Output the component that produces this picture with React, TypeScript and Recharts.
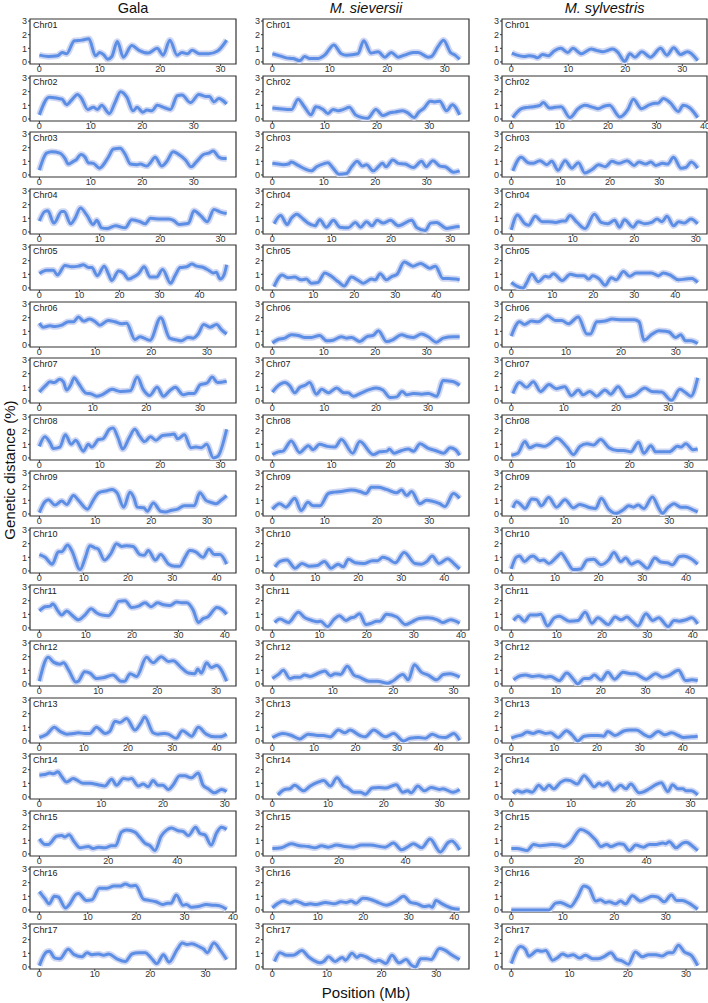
import { LineChart, Line, XAxis, YAxis, ReferenceArea } from 'recharts';

type Pt = [number, number];

// Gala
const gala01: Pt[] = [[0,0.5],[1.5,0.4],[3,0.45],[3.8,0.7],[4.5,0.6],[5.8,1.55],[7,1.6],[8.2,1.7],[9.3,0.45],[10,0.7],[10.7,0.5],[11.3,0.2],[12,0.4],[12.9,1.5],[13.9,0.35],[15.3,1.2],[16.5,0.85],[18,0.65],[19.5,1.0],[20.5,0.5],[21.6,1.6],[22.8,0.5],[23.6,0.7],[24.5,0.6],[25.3,0.85],[26.5,0.6],[28,0.6],[29.5,0.8],[31,1.6]];
const gala02: Pt[] = [[0,0.3],[1.9,1.6],[3.7,1.5],[4.4,1.45],[5.3,1.05],[6.3,1.4],[7.4,1.8],[8.2,1.5],[9.4,0.7],[10.5,0.85],[11.3,0.7],[12.1,1.0],[13.6,0.4],[14.7,1.2],[15.8,2.0],[17,1.6],[18.2,0.6],[19,0.85],[20.1,0.5],[20.9,0.65],[21.9,0.6],[22.9,1.0],[24.5,0.8],[25.5,0.7],[26.8,1.7],[27.7,1.75],[29.4,1.2],[31,1.8],[32.3,1.65],[33.1,1.65],[33.9,1.25],[34.9,1.5],[35.5,1.4],[36.4,1.1]];
const gala03: Pt[] = [[0,0.35],[1.4,1.6],[2.4,1.7],[4,1.6],[5,1.2],[5.6,0.8],[6.6,1.0],[7.1,1.1],[8.1,1.5],[8.9,1.3],[9.5,0.9],[10.5,0.85],[11.7,0.5],[12.1,0.6],[13.4,1.3],[14.4,1.9],[15.7,1.95],[16.7,1.5],[17.7,0.8],[19,0.75],[19.6,0.8],[20.9,0.65],[21.6,0.9],[22.5,1.3],[23.8,0.65],[24.8,1.0],[26,1.7],[27.1,1.5],[28.4,1.1],[29.5,0.6],[30.6,1.0],[31.9,1.5],[32.9,1.6],[33.8,1.75],[34.9,1.3],[35.8,1.2],[36.4,1.2]];
const gala04: Pt[] = [[0,0.8],[0.9,1.5],[1.4,1.55],[2.4,0.65],[3.7,1.5],[4.1,1.5],[5.2,0.6],[5.9,1.0],[6.8,1.75],[7.9,1.2],[8.9,0.55],[9.5,0.85],[10.3,0.3],[11.2,0.25],[12.6,0.45],[14.2,0.3],[15.3,0.9],[16.7,0.75],[17.5,0.6],[18.4,1.0],[20,0.95],[21.4,0.95],[22.2,0.85],[23.1,0.55],[24.2,0.6],[24.7,0.65],[25.6,1.55],[26.7,1.2],[27.8,0.75],[28.9,1.65],[30,1.45],[31,1.35]];
const gala05: Pt[] = [[0,1.05],[1.8,1.3],[3.5,1.3],[4.5,0.95],[6.4,1.65],[8.1,1.55],[9.8,1.6],[11,1.7],[12.3,1.5],[13.1,1.5],[14.5,0.9],[16.2,1.6],[17.3,1.0],[18.1,0.55],[19.8,1.25],[21,1.1],[22.3,0.65],[23.5,0.8],[24.8,1.05],[26.2,1.55],[27.7,0.8],[29.3,0.8],[30.8,1.35],[32.8,0.35],[33.9,0.9],[35.2,1.5],[36.8,1.55],[38.1,1.75],[39.3,1.6],[41,1.5],[42.3,1.3],[43.5,1.1],[44.2,1.15],[45.2,0.65],[46.2,1.0],[46.8,1.7]];
const gala06: Pt[] = [[0,1.6],[0.7,1.3],[1.9,1.4],[2.8,1.35],[4,1.45],[5.2,1.7],[6.1,1.7],[7,2.05],[7.9,1.75],[9,1.9],[10,1.7],[10.8,1.45],[12.3,1.8],[13.5,1.7],[14.7,1.55],[15.6,1.6],[17.1,0.4],[18,0.6],[19.8,0.35],[21.7,2.0],[23.3,0.5],[24.8,0.35],[25.4,0.3],[26.6,0.55],[27.5,0.5],[28.4,0.8],[29.4,1.5],[30.5,1.3],[31.7,1.5],[32.6,1.1],[33.5,0.8]];
const gala07: Pt[] = [[0,0.65],[1.1,1.1],[2,1.4],[2.8,1.35],[3.8,1.6],[4.5,1.4],[5.1,0.8],[5.9,1.2],[6.5,1.7],[7.3,1.3],[8.6,0.6],[9.8,0.5],[10.7,0.35],[11.7,0.45],[13.6,0.85],[15.1,0.7],[17,0.75],[18.3,1.75],[19.4,0.85],[20.6,0.4],[22,1.0],[23.2,0.35],[24.5,0.8],[25.4,1.0],[26.9,0.45],[27.9,0.55],[28.9,0.55],[30.1,1.2],[31.3,1.3],[32.3,1.75],[33.3,1.35],[35,1.45]];
const gala08: Pt[] = [[0,0.85],[0.9,1.55],[1.8,1.1],[2.3,0.7],[3.4,0.8],[4.3,1.7],[5.3,1.0],[6,1.3],[7.3,0.5],[8.1,1.0],[8.7,0.8],[9.8,1.35],[10.5,1.4],[11.6,2.1],[12.2,2.2],[13,1.5],[13.8,0.65],[14.9,1.5],[15.8,2.1],[16.6,1.6],[17.4,1.2],[18.4,1.55],[19.3,1.3],[20.4,1.65],[21.5,1.7],[22.3,1.75],[22.9,1.4],[24,1.7],[25.1,0.75],[25.9,0.8],[26.8,0.75],[27.7,1.0],[28.8,0.0],[29.5,0.1],[31,2.1]];
const gala09: Pt[] = [[0,0.1],[1,0.9],[1.6,1.05],[2.8,0.65],[4,0.95],[4.9,0.7],[6.1,1.35],[7,1.0],[8.6,0.35],[9.7,1.05],[10.6,1.55],[12.1,1.7],[13,1.8],[13.9,1.55],[15.1,0.5],[16.2,1.6],[16.9,1.2],[17.5,0.5],[18.7,0.45],[19.3,0.2],[20.4,0.8],[21.7,0.2],[22.6,0.15],[23.5,0.25],[24.7,0.35],[25.9,0.6],[26.8,0.6],[27.7,0.6],[28.7,1.55],[29.8,1.0],[30.7,0.85],[31.6,0.75],[32.5,1.0],[33.5,1.35]];
const gala10: Pt[] = [[0,1.2],[1.3,1.0],[2.9,0.5],[4.3,1.4],[5,1.4],[6.4,1.9],[7.3,1.5],[9.2,0.1],[10.4,1.0],[11.4,1.85],[12.5,1.7],[13.3,1.6],[14.7,0.8],[16.2,1.3],[17.4,2.0],[18.6,1.8],[19.7,1.85],[21.2,1.8],[22.7,1.2],[23.7,1.15],[24.6,1.5],[26.2,0.8],[27.4,1.2],[29.2,0.5],[30.6,0.35],[31.7,0.35],[32.9,1.0],[34,1.5],[35.3,1.4],[37,1.0],[38.3,1.6],[39.5,1.2],[40.8,1.2],[42.3,0.5]];
const gala11: Pt[] = [[0,1.25],[1.2,1.55],[2.3,1.6],[2.9,1.75],[4.1,1.2],[4.8,0.95],[5.9,1.25],[7,0.95],[8.4,0.6],[9.7,0.9],[11.2,1.4],[12.4,1.1],[13.5,0.95],[14.9,0.9],[16,1.3],[17.1,1.95],[18.5,2.0],[19.9,1.5],[21.4,1.6],[22.8,1.85],[24.1,1.55],[25.5,1.85],[26.8,1.7],[28.2,1.65],[29.6,1.9],[30.7,1.85],[31.8,1.85],[33.2,1.3],[34.3,0.4],[35.4,0.7],[36.3,0.8],[38.3,1.5],[39.4,1.35],[40.4,1.0]];
const gala12: Pt[] = [[0,0.2],[1.5,1.95],[2.4,1.6],[3.5,1.45],[4.1,1.55],[5,1.0],[6.2,0.15],[6.6,0.2],[7.7,0.9],[8.6,0.8],[9.7,0.4],[10.8,0.45],[12.5,0.65],[13.9,0.2],[14.5,0.2],[15.4,0.75],[16.5,0.55],[18.2,1.95],[19.3,1.55],[20.7,2.0],[21.9,1.65],[22.7,1.7],[24.1,1.2],[25.3,0.8],[26.4,0.75],[26.9,1.1],[27.5,0.8],[28.4,1.55],[29.2,1.2],[30.1,1.35],[31.8,0.2]];
const gala13: Pt[] = [[0,0.25],[1.7,0.5],[3.4,1.0],[4.7,0.7],[6.2,0.5],[7.7,0.55],[8.8,0.6],[10.3,0.55],[11.4,0.55],[12.9,1.0],[14.9,0.55],[15.9,0.7],[17.1,1.45],[18.2,1.35],[19.7,1.65],[21.6,0.8],[22.9,1.3],[23.8,1.75],[25.7,0.6],[26.8,0.5],[28.3,0.55],[29.1,0.5],[30.9,0.2],[32.3,0.75],[34.4,0.35],[35.9,1.0],[37.7,0.5],[39.6,0.3],[40.8,0.3],[42.3,0.5]];
const gala14: Pt[] = [[0,1.6],[0.9,1.65],[1.7,1.75],[2.3,1.7],[3,1.85],[3.6,1.5],[4.4,1.1],[5.5,1.35],[6,1.25],[7.1,1.0],[8.2,1.0],[9.5,0.9],[10.6,0.8],[11.7,1.3],[12.5,0.85],[13.6,1.35],[14.4,1.3],[14.9,1.35],[16,0.8],[16.8,0.95],[17.6,0.75],[18.4,1.2],[19.2,0.85],[20,0.85],[20.9,0.55],[21.6,0.85],[22.7,1.55],[23.5,1.55],[24.6,1.4],[25.7,1.75],[26.5,0.85],[27.3,0.6],[28.3,0.3],[29.5,0.55],[30.3,0.4]];
const gala15: Pt[] = [[0,1.1],[1.6,0.7],[2.6,0.7],[5,1.3],[6.5,1.35],[7.4,1.25],[8.6,1.4],[10.1,0.9],[11.8,0.45],[14.2,0.55],[15.6,0.4],[17.1,0.5],[19,0.45],[20.9,0.6],[22.1,0.6],[23.8,1.6],[25.3,1.75],[27.7,1.6],[29.2,1.2],[30.6,0.8],[32.1,0.6],[33.5,0.25],[35.3,1.3],[36.9,1.75],[38.3,1.9],[40.3,1.7],[41.7,1.65],[43.2,1.35],[45.3,1.95],[46.6,1.5],[48,1.4],[49.8,0.65],[51.4,1.55],[52.8,1.95],[54.3,1.8]];
const gala16: Pt[] = [[0,1.35],[1.2,0.8],[2,0.45],[3.1,1.0],[3.9,0.95],[5.4,0.15],[6.2,0.4],[7.6,1.15],[8.1,1.2],[9.7,0.7],[10.9,0.75],[12.4,1.6],[14,1.6],[15.4,1.75],[16.6,1.75],[17.8,1.9],[18.9,1.75],[19.9,1.8],[21.5,0.8],[22.7,0.7],[24.1,0.6],[25.5,0.4],[26.5,0.5],[27.2,0.5],[28.3,1.1],[29.7,0.35],[30.4,0.4],[31.4,0.2],[32.8,0.25],[34.5,0.4],[35.9,0.35],[37.3,0.3],[38.7,0.05]];
const gala17: Pt[] = [[0,0.1],[1.3,1.1],[1.8,1.15],[2.8,0.65],[3.7,0.6],[5.2,1.3],[6.3,0.9],[7.7,0.75],[8.6,1.05],[9.5,0.9],[10.7,0.95],[11.6,0.85],[12.5,0.95],[14,0.6],[15.5,0.4],[16.7,0.95],[17.9,1.05],[19.1,1.05],[20.3,0.6],[21.2,0.25],[22.4,0.9],[23.4,0.35],[24.9,1.3],[25.8,1.75],[26.7,1.65],[27.5,1.7],[28.8,1.5],[29.7,1.3],[30.3,1.05],[31.5,1.75],[32.7,1.2],[33.8,0.55]];

// M. sieversii
const siev01: Pt[] = [[0,0.6],[1.3,0.45],[2.4,0.3],[3.6,0.25],[4.8,0.1],[5.6,0.4],[6.5,0.25],[7.9,0.25],[9.1,0.5],[10.7,1.25],[12,0.6],[12.9,0.5],[14.9,0.6],[15.9,1.55],[17.2,0.65],[18.4,0.75],[19.6,0.35],[20.7,0.7],[21.9,0.35],[23,0.5],[24.5,0.7],[25.4,0.7],[27.1,0.35],[27.7,0.4],[28.8,1.1],[29.8,1.6],[31,0.7],[31.8,0.5],[32.6,0.2]];
const siev02: Pt[] = [[0,0.8],[1.4,0.75],[2.8,0.7],[3.7,0.7],[4.9,1.45],[6.1,0.9],[7.4,0.3],[8.3,0.9],[9.7,0.7],[10.6,0.4],[11.6,0.7],[12.6,0.6],[13.6,0.7],[14.7,0.85],[15.9,0.3],[17.2,0.1],[18.2,0.05],[19.8,0.7],[21.1,0.25],[22.5,0.45],[23.4,0.5],[24.9,0.6],[25.9,0.45],[27.1,0.1],[28,0.5],[29,0.8],[30.2,1.3],[31,1.25],[32,1.3],[33.3,0.6],[34.4,1.05],[35.8,0.3]];
const siev03: Pt[] = [[0,0.85],[1.1,0.8],[2.1,0.75],[3.1,0.8],[3.7,0.95],[5,0.7],[6.6,0.4],[7.6,0.3],[8.6,0.6],[10.2,0.85],[10.8,0.9],[11.8,0.5],[13,0.05],[14.4,0.1],[15.4,0.6],[16.5,1.0],[17.5,0.65],[18.3,0.75],[19.6,0.3],[20.6,0.6],[21.4,0.85],[22.1,0.6],[23.4,1.1],[24.5,0.85],[25.8,0.8],[27.4,0.55],[29,1.0],[29.9,0.6],[31.2,1.05],[32.6,0.65],[33.6,0.6],[35.2,0.2],[36.4,0.3]];
const siev04: Pt[] = [[0.3,0.6],[1.4,1.2],[2.5,0.55],[3.2,1.0],[4.1,1.3],[5.2,0.95],[6,0.65],[7.2,0.45],[8,0.9],[9.1,0.35],[10.3,0.85],[11.4,0.35],[12.8,0.3],[14,0.7],[14.9,0.35],[15.9,0.75],[16.8,0.45],[17.7,0.85],[18.7,0.65],[19.9,0.85],[21.3,0.45],[23.5,0.85],[24.4,0.3],[25.8,0.1],[26.7,0.65],[27.7,0.7],[29.4,0.25],[30.6,0.35],[31.6,0.4]];
const siev05: Pt[] = [[0.4,0.1],[2.4,0.95],[3.8,0.75],[5.5,0.8],[7,0.6],[8.3,0.65],[9.5,0.35],[11.1,0.4],[12.8,1.1],[14.4,0.85],[16.1,0.45],[17.5,0.15],[19.3,0.8],[21,0.55],[22.2,0.35],[24.2,0.65],[25.1,0.6],[26.3,1.05],[27.8,0.6],[29.2,0.85],[30.4,1.0],[32.2,1.9],[34.3,1.6],[36.2,1.8],[38.4,1.45],[39.8,1.6],[41.6,0.7],[43,0.7],[44.7,0.65],[45.7,0.6]];
const siev06: Pt[] = [[0,0.15],[1.1,0.4],[2.4,0.5],[3.7,0.75],[5,0.7],[6.3,0.55],[7.6,0.55],[9.2,0.7],[10.6,0.3],[11.8,0.35],[13.4,0.6],[14.4,0.5],[15.4,0.55],[17,0.25],[18.3,0.6],[19.6,0.7],[20.6,1.05],[22.2,0.25],[23.5,0.4],[25.1,0.75],[26.4,0.6],[27.4,0.55],[29,0.8],[30.3,0.6],[31.9,0.2],[33.2,0.5],[35.2,0.6],[36.4,0.6]];
const siev07: Pt[] = [[0,0.65],[1.4,1.2],[2.4,1.35],[3.4,1.1],[4.3,0.6],[5.3,1.0],[6.3,1.15],[7.2,1.35],[8.5,0.5],[9.5,0.85],[10.8,0.6],[12.4,0.95],[13.8,0.6],[14.6,0.6],[15.6,0.35],[17.2,0.6],[18.8,0.85],[20,0.95],[21.3,0.8],[22.7,0.25],[24,0.3],[25,0.7],[25.9,0.45],[27.2,0.55],[28.8,0.5],[30.1,0.55],[31.7,0.35],[32.9,1.5],[34.3,1.45],[35.3,1.35],[36.1,1.15]];
const siev08: Pt[] = [[0,0.25],[1,0.45],[1.8,0.5],[3.2,1.25],[4.6,0.4],[6.1,0.9],[6.9,0.6],[8,1.0],[9.3,0.85],[10.6,0.8],[11.7,1.35],[13.6,0.35],[14.8,1.2],[17.1,0.25],[18.2,0.45],[19.4,0.5],[19.8,0.65],[20.6,0.35],[21.9,0.55],[23,0.65],[23.9,0.5],[25,1.05],[26.4,0.7],[27.6,0.55],[29,0.35],[30.1,0.75],[31,0.6],[31.7,0.2]];
const siev09: Pt[] = [[0,0.35],[1.4,0.75],[2.6,0.5],[4.3,1.15],[5.5,0.25],[6.8,0.85],[7.8,0.6],[9.1,0.6],[10.7,1.5],[11.9,1.6],[13.2,1.65],[15.1,1.75],[16.7,1.65],[17.9,1.5],[18.9,1.95],[20.2,1.95],[21.8,1.8],[23.7,1.55],[24.7,1.75],[25.7,1.35],[26.6,1.65],[28.2,0.75],[29.5,1.0],[30.4,0.95],[32,0.75],[33,0.55],[34.6,1.5],[35.8,1.15]];
const siev10: Pt[] = [[0.6,0.3],[1.8,0.7],[3.4,0.8],[5.3,0.2],[6.9,0.55],[8.5,0.35],[10.5,0.4],[12.1,0.7],[13.7,0.2],[15.3,0.5],[16.5,0.3],[17.7,0.85],[19.3,0.6],[21.3,0.55],[23.3,0.75],[24.5,0.75],[25.7,1.0],[26.9,0.9],[28.6,0.6],[30.7,1.35],[33.2,0.55],[34.8,0.5],[36,0.7],[37.2,1.1],[38.8,0.55],[40.8,0.9],[42.4,0.5],[43.6,0.15]];
const siev11: Pt[] = [[0.5,0.4],[1.6,0.65],[3.4,0.4],[5.5,1.15],[6.9,0.75],[8.4,0.55],[9.5,0.45],[10.2,0.5],[11.7,0.1],[13.1,0.65],[14.2,0.9],[15.6,0.55],[16.7,0.75],[17.4,0.8],[18.5,1.05],[19.8,0.25],[21,0.35],[22.1,0.5],[22.8,0.5],[24.2,1.0],[26.4,0.8],[28.2,0.25],[29.6,0.45],[31.1,0.7],[32.9,0.75],[35,0.6],[36.1,0.4],[37.8,0.6],[39.7,0.35]];
const siev12: Pt[] = [[0,0.4],[1,0.7],[1.8,1.0],[2.9,0.4],[3.7,0.5],[4.6,0.5],[5.3,0.65],[6.3,0.55],[7.4,0.75],[8.7,0.95],[9.6,0.6],[10.4,0.75],[11.3,0.7],[12.4,1.3],[13.5,0.65],[14.4,0.5],[16,0.2],[17.4,0.2],[19.1,0.05],[19.9,0.2],[21.6,0.7],[22.5,0.3],[23.5,1.4],[24.7,0.85],[25.8,0.65],[27.2,0.3],[28.3,0.7],[29.4,0.75],[31,0.5]];
const siev13: Pt[] = [[0,0.25],[2.6,0.55],[4.6,0.4],[6.6,0.15],[8.6,0.5],[11,0.4],[12.3,0.4],[13.9,0.3],[15.9,0.8],[17.5,0.6],[18.7,0.8],[21.1,0.4],[22.3,0.3],[24.4,0.8],[27.2,0.3],[29.2,0.55],[31.6,0.0],[33.2,0.2],[35.2,0.25],[36.9,0.2],[38.5,0.5],[40.1,0.3],[41.7,0.25],[43.7,0.55],[45.1,0.05]];
const siev14: Pt[] = [[1,0.15],[2.2,0.55],[3.1,0.6],[4,0.85],[5.6,0.45],[6.8,0.8],[8.3,1.1],[9.2,1.2],[10.4,0.8],[11.6,1.4],[12.8,0.8],[13.4,0.7],[14.6,0.35],[15.8,0.35],[16.7,0.2],[17.9,0.65],[19.1,0.7],[20.3,0.65],[22.2,0.9],[23.4,0.35],[24.3,0.45],[24.9,0.3],[26.1,0.8],[27.3,0.45],[28.5,0.7],[30,0.55],[30.6,0.6],[32.4,0.35],[33.6,0.55]];
const siev15: Pt[] = [[0,0.4],[2.7,0.45],[5.7,0.75],[8.2,0.6],[10.8,0.55],[12.8,0.45],[14.8,0.6],[16.8,0.5],[19.3,0.65],[21.8,0.55],[24.4,0.5],[26.8,0.65],[29.4,0.65],[33.9,0.5],[36.4,0.8],[38.9,0.3],[40.9,0.55],[42.4,0.75],[44.9,0.45],[47.4,1.1],[50.5,0.15],[52.9,0.85],[53.9,0.95],[56.3,0.3]];
const siev16: Pt[] = [[0,0.15],[1.3,0.5],[2.4,0.65],[3.9,0.5],[5,0.65],[6.1,0.55],[7.2,0.4],[8.4,0.45],[9.6,0.4],[11.7,0.55],[13.6,0.45],[15.1,0.6],[16.2,0.55],[17.3,0.65],[18.4,0.5],[19.9,0.85],[21.8,0.75],[22.9,0.6],[25.1,0.35],[27,0.6],[28.9,1.0],[30.4,0.55],[31.9,0.45],[33.4,0.25],[34.5,0.3],[35.2,0.2],[36,0.7],[37.1,0.5],[38.2,0.3],[39.7,0.1],[41.2,0.05]];
const siev17: Pt[] = [[0.4,0.4],[1.4,1.05],[2.6,0.85],[3.8,0.85],[5.4,1.2],[6.6,0.75],[7.5,0.5],[8.7,0.3],[9.4,0.4],[10.3,0.75],[11.5,0.4],[12.8,0.7],[13.4,0.5],[14.6,1.0],[15.5,0.7],[16.1,0.85],[17.1,0.75],[18.9,0.4],[19.5,0.5],[20.8,0.25],[21.9,0.85],[23.2,0.3],[24.5,0.55],[25.4,0.15],[26.2,0.0],[27.2,0.6],[28.2,0.6],[29.1,0.55],[30.6,1.35],[31.5,1.25],[32.8,0.9],[34.3,0.55]];

// M. sylvestris
const sylv01: Pt[] = [[0.1,0.65],[1,0.5],[2.2,0.4],[3.1,0.45],[4,0.4],[4.6,0.3],[5.5,0.55],[6.5,0.45],[7.5,0.8],[8.7,1.0],[9.9,0.7],[10.8,1.0],[12.3,0.6],[14,0.95],[14.9,0.85],[16.1,0.75],[17.8,0.95],[18.7,0.7],[19.9,0.05],[20.8,0.6],[21.7,0.35],[22.9,0.75],[24.4,0.35],[26.2,1.0],[27.3,0.5],[28.5,1.05],[29.7,0.55],[30.9,0.75],[32.7,0.1]];
const sylv02: Pt[] = [[0.3,0.1],[2.1,0.75],[3.4,0.85],[4.5,0.9],[5.9,1.0],[6.6,1.2],[7.9,0.8],[9,0.85],[10.3,0.9],[12.1,0.1],[13.8,0.75],[15.2,1.0],[16.9,0.85],[17.9,0.75],[19.3,0.95],[20.3,1.0],[22.4,0.15],[24.1,0.7],[25.2,1.45],[26.9,0.75],[28.6,1.05],[29.7,1.15],[30.3,1.15],[31.4,1.5],[32.8,1.2],[34.5,0.55],[35.5,1.0],[36.9,0.8],[38.5,0.1]];
const sylv03: Pt[] = [[0.3,0.3],[2,1.3],[3.4,0.9],[4.4,0.85],[5.8,1.05],[7.2,0.75],[8.2,1.0],[9.5,0.35],[10.9,1.05],[12.3,0.5],[13.6,0.9],[14.9,0.15],[16.4,0.4],[17.7,0.75],[19.1,0.6],[20.4,1.0],[21.8,0.85],[23.5,1.05],[24.9,0.7],[25.9,0.95],[27.3,0.8],[28.3,0.95],[29.3,0.7],[30.7,0.85],[31.7,0.8],[32.9,1.3],[34.4,0.5],[35.4,0.55],[36.5,0.95],[37.8,0.5]];
const sylv04: Pt[] = [[0,0.15],[1,1.25],[2.2,0.6],[2.8,0.5],[3.9,1.15],[5,0.75],[6.1,0.75],[7.2,0.7],[8.3,0.8],[8.8,0.8],[9.5,1.2],[10.7,0.7],[12,0.25],[13.5,1.3],[14.6,0.7],[15.7,0.6],[16.8,0.85],[17.6,0.35],[18.4,0.9],[19.8,0.35],[20.6,0.75],[21.7,0.6],[22.8,0.7],[23.7,0.95],[24.5,0.75],[25.3,1.15],[26.4,0.45],[27.2,0.75],[28.1,0.65],[29.2,0.95],[30.3,0.6]];
const sylv05: Pt[] = [[0,0.4],[1.2,0.15],[2.9,0.0],[3.7,0.35],[5,1.0],[6.6,0.45],[8.3,0.85],[9.2,0.8],[10.3,1.05],[12.4,0.55],[14.4,1.0],[16.1,0.9],[17.7,0.9],[18.9,0.65],[19.9,0.9],[21.5,0.65],[22.9,0.2],[24.4,0.75],[25.6,0.6],[27.4,1.2],[28.9,0.85],[30.5,1.1],[32.6,1.1],[34.2,1.1],[35.9,0.9],[37.1,1.1],[38.8,0.95],[40.8,0.6],[42.5,0.65],[44.1,0.7],[45.5,0.4]];
const sylv06: Pt[] = [[0,0.65],[1.5,1.7],[2.4,1.5],[3.7,1.75],[4.9,1.7],[6.6,2.15],[8,1.8],[9.2,1.8],[10.4,1.55],[12.2,2.05],[13.8,0.8],[14.4,0.8],[15.6,1.7],[17.1,1.75],[18.4,1.9],[20.2,1.85],[22.4,1.85],[23.3,1.7],[24.2,0.35],[25.7,0.8],[26.9,1.05],[28.2,1.0],[28.8,0.95],[30,0.55],[30.9,0.75],[31.8,0.3],[32.8,0.3],[34,0.1]];
const sylv07: Pt[] = [[0.3,0.55],[1.6,1.35],[2.9,1.0],[4.2,1.4],[5.6,0.7],[7.2,1.2],[8.6,0.9],[10.2,1.05],[11.5,0.4],[12.8,0.8],[13.7,0.45],[15,0.7],[16.3,0.35],[17.9,0.8],[19,0.5],[20.4,1.05],[22,0.3],[23.6,0.45],[25.5,0.95],[26.8,0.7],[28.7,0.65],[30.6,0.05],[32.2,0.85],[33.3,0.6],[34.3,0.35],[35.6,1.7]];
const sylv08: Pt[] = [[0,0.2],[1.1,0.35],[2.3,1.2],[3.1,0.75],[4.3,0.95],[5.7,0.85],[6.5,1.05],[7.7,1.45],[9.4,0.8],[10.5,0.25],[11.6,0.85],[12.8,1.05],[13.9,0.95],[15.1,1.35],[16.5,0.75],[17.9,0.55],[19,0.55],[20.2,0.45],[21.5,1.15],[22.4,0.35],[23.6,0.9],[24.4,0.45],[25.6,0.45],[26.7,0.45],[28.1,0.85],[28.7,0.8],[29.5,1.05],[30.7,0.6],[31.5,0.65]];
const sylv09: Pt[] = [[0.3,0.45],[1,0.9],[1.9,0.65],[2.6,0.4],[3.9,1.1],[4.8,1.05],[5.7,0.6],[7.1,1.2],[8.6,0.5],[10.2,1.05],[11.8,0.45],[13,0.7],[15,0.45],[16,0.4],[17.1,1.15],[18.5,0.35],[19.9,0.05],[21.4,0.35],[22.3,0.6],[23.2,0.5],[24.1,0.65],[25.2,0.4],[26.8,1.25],[28.1,0.35],[28.7,0.05],[29.7,0.45],[30.9,0.75],[32.2,0.5],[33.2,0.5],[34.5,0.3],[35.4,0.15]];
const sylv10: Pt[] = [[0,0.15],[1.1,1.0],[1.9,1.1],[3,0.7],[4.4,1.05],[5,1.1],[6.5,0.75],[7.4,0.8],[8.6,0.55],[10.5,1.05],[11.4,1.3],[12.6,0.8],[14.2,0.1],[15.9,0.15],[17.4,0.8],[18.9,0.85],[20.5,0.45],[22.4,0.85],[23.5,1.35],[25.1,0.7],[26.2,0.95],[27.5,0.5],[29,0.7],[31.2,0.2],[32.9,0.95],[34.3,0.65],[35.8,0.6],[36.9,0.45],[38.5,1.05],[39.5,1.1],[41.2,0.9],[42.7,0.5]];
const sylv11: Pt[] = [[0.5,0.55],[1.6,0.85],[2.9,0.5],[4.2,0.95],[5.4,0.95],[6.5,1.0],[8,0.15],[9.5,0.75],[10.6,0.85],[12.8,0.5],[14.7,0.55],[16.3,1.15],[17.8,0.35],[19.1,0.75],[21.4,0.25],[22.9,0.8],[24.2,0.6],[25.5,0.8],[26.6,0.5],[27.9,0.15],[29.7,1.05],[31.2,0.55],[32.5,0.75],[34.6,0.1],[35.9,0.55],[37,0.5],[38.5,0.6],[39.8,0.75],[41.1,0.3]];
const sylv12: Pt[] = [[0.5,0.3],[2,0.6],[3.2,0.65],[4.7,0.55],[6.2,0.6],[7.7,0.5],[8.8,0.55],[10.7,0.25],[12.4,0.8],[14.1,0.25],[14.8,0.0],[16.3,0.4],[17.4,0.4],[18.6,0.65],[20.1,0.3],[21.6,0.85],[23.1,0.35],[25,0.85],[26.8,0.75],[27.6,0.75],[30.2,0.35],[32.3,0.75],[33.8,0.5],[35.1,0.6],[37.4,1.0],[39,0.25],[40.4,0.3],[41.7,0.25]];
const sylv13: Pt[] = [[0,0.2],[1.3,0.35],[2.5,0.45],[3.7,0.65],[5.1,0.55],[6.4,0.7],[8,0.55],[9.2,0.6],[10.9,0.25],[12.9,0.75],[14.3,0.4],[15.5,0.0],[17,0.35],[18.6,0.4],[20.2,0.4],[21.6,0.35],[22.5,0.7],[24.2,0.4],[26.4,0.75],[27.6,0.8],[29.2,0.8],[31.1,0.45],[32.3,0.3],[34.3,0.7],[35.8,0.45],[37.4,0.6],[39,0.4],[40.2,0.25],[42.1,0.3],[43.5,0.35]];
const sylv14: Pt[] = [[0.3,0.25],[1,0.45],[1.8,0.35],[2.6,0.45],[3.5,0.35],[4.6,0.85],[5.5,0.55],[6.3,0.85],[7.1,0.6],[8.2,1.05],[9.1,1.25],[9.9,1.2],[11,0.95],[12.2,1.55],[13,1.2],[13.9,0.75],[14.7,1.0],[15.3,0.85],[16.1,1.05],[17.2,0.5],[18.3,0.85],[19.2,0.6],[20,0.95],[21.4,0.3],[22,0.35],[23.1,0.6],[24.2,0.9],[25.1,1.05],[26.2,0.4],[27,0.9],[27.9,0.6],[28.7,0.6],[29.3,0.45],[30.1,0.45],[31.2,0.15]];
const sylv15: Pt[] = [[0,0.4],[1.7,0.4],[4.7,0.25],[6.6,0.7],[8.6,0.6],[10.6,0.65],[12.1,0.7],[14.1,0.65],[15.5,0.55],[17.5,0.85],[20.5,1.8],[22.5,1.6],[25,1.0],[26.5,0.55],[28.2,0.7],[29.4,0.55],[31.9,0.75],[33.2,0.7],[34.9,0.25],[36.8,0.65],[39.1,0.5],[40.8,0.7],[42.8,0.7],[44.8,0.8],[45.7,0.75],[46.7,0.9],[48.7,0.45],[50.7,0.8],[51.7,0.85],[53.7,0.55],[55.1,0.25]];
const sylv16: Pt[] = [[0,0],[7.3,0],[8.6,0.5],[9.5,0.55],[10.3,0.45],[11.5,0.25],[12.8,0.9],[14.1,1.75],[15.1,1.6],[16.4,0.65],[17.3,0.75],[18.3,0.55],[19,0.6],[20.3,0.45],[21.2,0.65],[22.2,0.45],[23.5,1.05],[25.1,0.65],[26.3,0.85],[27.4,1.0],[28.4,0.95],[29.7,0.6],[31.1,1.1],[32.1,0.7],[33.2,0.7],[34.5,0.5],[36.2,0.05]];
const sylv17: Pt[] = [[0,0.25],[1.6,1.5],[2.4,1.3],[3,0.8],[4.5,1.2],[5.3,1.15],[5.9,1.2],[7.1,0.5],[8,0.7],[8.8,0.95],[9.7,0.8],[10.6,0.9],[11.7,0.65],[12.7,0.85],[14,0.6],[14.9,0.6],[16.1,0.8],[17.1,1.05],[18.1,0.55],[19,0.45],[20.1,0.2],[21.3,1.1],[22.5,0.75],[23.6,0.9],[24.8,0.9],[25.9,0.8],[27,1.05],[27.7,1.05],[28.7,1.6],[29.7,1.1],[30.9,0.85],[32,0.1]];

const galaSeries = [gala01, gala02, gala03, gala04, gala05, gala06, gala07, gala08, gala09, gala10, gala11, gala12, gala13, gala14, gala15, gala16, gala17];
const sieversiiSeries = [siev01, siev02, siev03, siev04, siev05, siev06, siev07, siev08, siev09, siev10, siev11, siev12, siev13, siev14, siev15, siev16, siev17];
const sylvestrisSeries = [sylv01, sylv02, sylv03, sylv04, sylv05, sylv06, sylv07, sylv08, sylv09, sylv10, sylv11, sylv12, sylv13, sylv14, sylv15, sylv16, sylv17];

const chromosomes = ['Chr01', 'Chr02', 'Chr03', 'Chr04', 'Chr05', 'Chr06', 'Chr07', 'Chr08', 'Chr09', 'Chr10', 'Chr11', 'Chr12', 'Chr13', 'Chr14', 'Chr15', 'Chr16', 'Chr17'];
const columnTitles = ['Gala', 'M. sieversii', 'M. sylvestris'];
const yTicks = [0, 1, 2, 3];
const Y_DOMAIN: [number, number] = [-0.15, 3.15];

const FONT = '"Liberation Sans", Arial, Helvetica, sans-serif';
const LINE = '#5b8ee4';
const RIBBON = '#d0d7f2';
const BORDER = '#333';

const colLeft = [30, 263, 502];
const colWidth = [206, 206, 205];
const ROW_TOP = 19;
const ROW_PITCH = 56.56;
const BOX_H = 45;
const Y_AXIS_W = 28;

type PanelProps = { pts: Pt[]; label: string; left: number; top: number; w: number };

const Panel = ({ pts, label, left, top, w }: PanelProps) => {
  const data = pts.map(([x, y]) => ({ x, y }));
  const L = pts[pts.length - 1][0];
  const lo = -0.05 * L;
  const hi = 1.05 * L;
  const step = L > 50 ? 20 : 10;
  const ticks: number[] = [];
  for (let t = 0; t <= hi; t += step) ticks.push(t);
  return (
    <div style={{ position: 'absolute', left: left - Y_AXIS_W, top: top - 2 }}>
      <LineChart width={w + Y_AXIS_W + 4} height={BOX_H + 16} data={data} margin={{ top: 2, right: 4, bottom: 0, left: 0 }}>
        <XAxis
          dataKey="x"
          type="number"
          domain={[lo, hi]}
          ticks={ticks}
          interval={0}
          allowDataOverflow
          axisLine={false}
          tickSize={2}
          tickMargin={0}
          height={14}
          tick={{ fontSize: 9, fill: '#333', fontFamily: FONT }}
          tickLine={{ stroke: BORDER }}
        />
        <YAxis
          type="number"
          domain={Y_DOMAIN}
          ticks={yTicks}
          interval={0}
          allowDataOverflow
          axisLine={false}
          tickSize={2}
          tickMargin={1}
          width={Y_AXIS_W}
          tick={{ fontSize: 9, fill: '#333', fontFamily: FONT }}
          tickLine={{ stroke: BORDER }}
        />
        <Line dataKey="y" type="monotone" stroke={RIBBON} strokeWidth={6.5} dot={false} activeDot={false} isAnimationActive={false} />
        <Line dataKey="y" type="monotone" stroke={LINE} strokeWidth={3} dot={false} activeDot={false} isAnimationActive={false} />
        <ReferenceArea x1={lo} x2={hi} y1={Y_DOMAIN[0]} y2={Y_DOMAIN[1]} fill="none" stroke={BORDER} strokeWidth={1.2} ifOverflow="visible" />
      </LineChart>
      <div style={{ position: 'absolute', left: Y_AXIS_W + 3, top: 3, fontSize: 9, lineHeight: '10px', color: '#222', fontFamily: FONT }}>
        {label}
      </div>
    </div>
  );
};

const App = () => {
  const columns = [galaSeries, sieversiiSeries, sylvestrisSeries];
  return (
    <div style={{ position: 'absolute', left: 0, top: 0, width: 708, height: 1003, background: '#fff', fontFamily: FONT, overflow: 'hidden' }}>
      {columnTitles.map((t, c) => (
        <div
          key={t}
          style={{
            position: 'absolute',
            left: colLeft[c],
            width: colWidth[c],
            top: 0,
            textAlign: 'center',
            fontSize: 14.5,
            lineHeight: '16px',
            fontStyle: c === 0 ? 'normal' : 'italic',
            color: '#111',
          }}
        >
          {t}
        </div>
      ))}
      {columns.map((series, c) =>
        series.map((pts, r) => (
          <Panel
            key={`${c}-${r}`}
            pts={pts}
            label={chromosomes[r]}
            left={colLeft[c]}
            top={ROW_TOP + r * ROW_PITCH}
            w={colWidth[c]}
          />
        ))
      )}
      <div
        style={{
          position: 'absolute',
          left: 10 - 100,
          top: 470 - 10,
          width: 200,
          height: 20,
          lineHeight: '20px',
          textAlign: 'center',
          fontSize: 15,
          color: '#111',
          transform: 'rotate(-90deg)',
        }}
      >
        Genetic distance (%)
      </div>
      <div
        style={{
          position: 'absolute',
          left: 266,
          width: 200,
          top: 984,
          textAlign: 'center',
          fontSize: 15,
          lineHeight: '18px',
          color: '#111',
        }}
      >
        Position (Mb)
      </div>
    </div>
  );
};

export default App;
